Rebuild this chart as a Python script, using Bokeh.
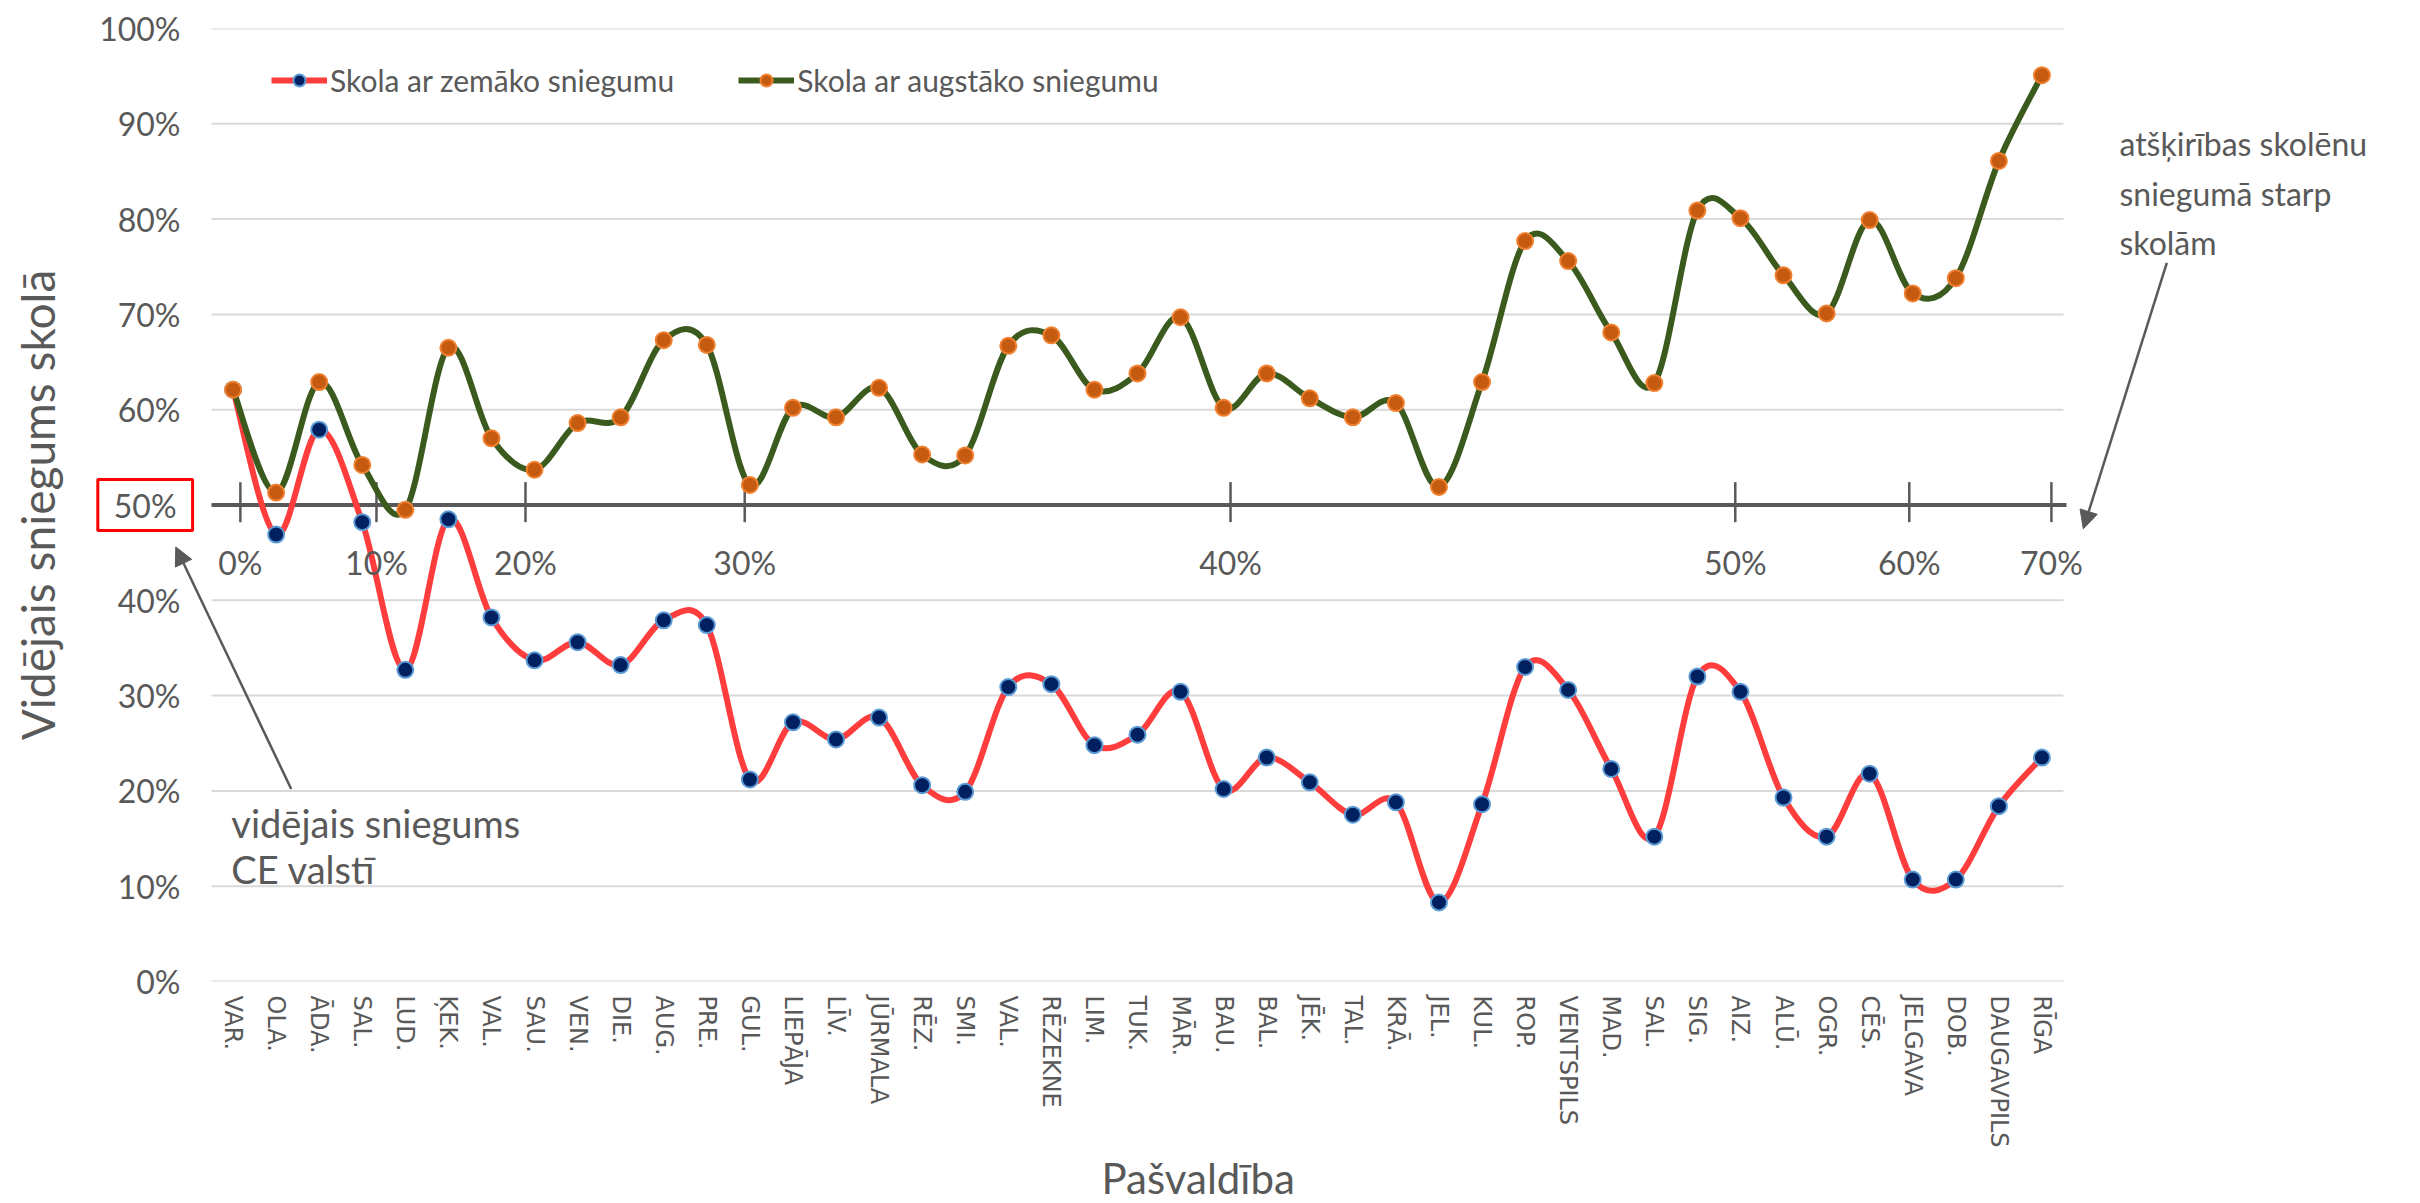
import numpy as np
from bokeh.plotting import figure
from bokeh.models import (Range1d, FixedTicker, Label, Arrow, NormalHead,
                          Legend, LegendItem, Title)
from bokeh.embed import file_html
from bokeh.resources import INLINE

# ---------------- data ----------------
municipalities = ["VAR.", "OLA.", "ĀDA.", "SAL.", "LUD.", "ĶEK.", "VAL.", "SAU.", "VEN.", "DIE.",
                  "AUG.", "PRE.", "GUL.", "LIEPĀJA", "LĪV.", "JŪRMALA", "RĒZ.", "SMI.", "VAL.",
                  "RĒZEKNE", "LIM.", "TUK.", "MĀR.", "BAU.", "BAL.", "JĒK.", "TAL.", "KRĀ.",
                  "JEL.", "KUL.", "ROP.", "VENTSPILS", "MAD.", "SAL.", "SIG.", "AIZ.", "ALŪ.",
                  "OGR.", "CĒS.", "JELGAVA", "DOB.", "DAUGAVPILS", "RĪGA"]

lowest = [62.1, 46.9, 57.9, 48.2, 32.7, 48.5, 38.2, 33.7, 35.6, 33.2,
          37.9, 37.4, 21.2, 27.2, 25.4, 27.7, 20.6, 19.9, 30.9,
          31.2, 24.8, 25.9, 30.4, 20.2, 23.5, 20.9, 17.5, 18.8,
          8.3, 18.6, 33.0, 30.6, 22.3, 15.2, 32.0, 30.4, 19.3,
          15.2, 21.8, 10.7, 10.7, 18.4, 23.5]

highest = [62.1, 51.3, 62.9, 54.2, 49.5, 66.5, 57.0, 53.7, 58.6, 59.2,
           67.3, 66.8, 52.1, 60.2, 59.2, 62.3, 55.3, 55.2, 66.7,
           67.8, 62.1, 63.8, 69.7, 60.2, 63.8, 61.2, 59.2, 60.7,
           51.9, 62.9, 77.7, 75.6, 68.1, 62.8, 80.9, 80.1, 74.1,
           70.1, 79.9, 72.2, 73.8, 86.1, 95.1]

series_names = ["Skola ar zemāko sniegumu", "Skola ar augstāko sniegumu"]

y_ticks = [0, 10, 20, 30, 40, 50, 60, 70, 80, 90, 100]
boxed_tick = 50

# difference scale drawn along the 50% line (positions in category units)
diff_tick_pos = [0.17, 3.33, 6.79, 11.88, 23.16, 34.88, 38.92, 42.22]
diff_tick_labels = ["0%", "10%", "20%", "30%", "40%", "50%", "60%", "70%"]

# ---------------- styling ----------------
GRAY = "#595959"
GRID = "#D9D9D9"
RED = "#FF3D3D"
GREEN = "#3A5A1E"
NAVY = "#002060"
NAVY_EDGE = "#5B9BD5"
ORANGE = "#C55A11"
ORANGE_EDGE = "#F08030"
FONT = "Lato"

n = len(municipalities)
xs = np.arange(n, dtype=float)
cat_lo, cat_hi = -0.5, n - 0.5

# frame extends beyond the category area so that side notes are not clipped
x_lo = cat_lo - 2.81
x_hi = cat_hi + 8.29

p = figure(width=2420, height=1203, output_backend="svg", toolbar_location=None,
           x_range=Range1d(x_lo, x_hi), y_range=Range1d(0, 100),
           min_border_left=90, min_border_right=0, min_border_top=28,
           min_border_bottom=222)
p.outline_line_color = None
p.background_fill_color = "white"
p.xgrid.visible = False
p.ygrid.visible = False

# x axis
p.xaxis.ticker = FixedTicker(ticks=list(range(n)))
p.xaxis.major_label_overrides = {i: m for i, m in enumerate(municipalities)}
p.xaxis.major_label_orientation = "vertical"
p.xaxis.major_label_text_font = "DejaVu Sans"
p.xaxis.major_label_text_font_size = "24px"
p.xaxis.major_label_text_color = GRAY
p.xaxis.major_label_standoff = 14
p.xaxis.major_tick_out = 0
p.xaxis.major_tick_in = 0
p.xaxis.axis_line_color = None
p.xaxis.major_tick_line_color = None
p.xaxis.minor_tick_line_color = None

# y axis (labels pulled in next to the plotting area)
p.yaxis.ticker = FixedTicker(ticks=y_ticks)
p.yaxis.major_label_overrides = {t: ("" if t == boxed_tick else f"{t}%") for t in y_ticks}
p.yaxis.major_label_text_font = FONT
p.yaxis.major_label_text_font_size = "32px"
p.yaxis.major_label_text_color = GRAY
p.yaxis.major_label_standoff = -90
p.yaxis.major_tick_out = 0
p.yaxis.major_tick_in = 0
p.yaxis.axis_line_color = None
p.yaxis.major_tick_line_color = None
p.yaxis.minor_tick_line_color = None
p.yaxis.axis_label = "Vidējais sniegums skolā"
p.yaxis.axis_label_text_font = FONT
p.yaxis.axis_label_text_font_size = "46px"
p.yaxis.axis_label_text_font_style = "normal"
p.yaxis.axis_label_text_color = GRAY
p.yaxis.axis_label_standoff = 31

# horizontal gridlines over the category area
p.segment(x0=[cat_lo] * len(y_ticks), y0=y_ticks, x1=[cat_hi] * len(y_ticks), y1=y_ticks,
          line_color=GRID, line_width=2)

# 50% axis with the difference scale
p.segment(x0=[cat_lo], y0=[boxed_tick], x1=[cat_hi + 0.07], y1=[boxed_tick],
          line_color=GRAY, line_width=4)
p.segment(x0=diff_tick_pos, y0=48.2, x1=diff_tick_pos, y1=52.4, line_color=GRAY, line_width=2.5)
for pos, lab in zip(diff_tick_pos, diff_tick_labels):
    p.add_layout(Label(x=pos, y=44.0, text=lab, text_align="center", text_baseline="middle",
                       text_font=FONT, text_font_size="32px", text_color=GRAY))


def smooth_segments(x, y):
    x = np.asarray(x, float)
    y = np.asarray(y, float)
    m = len(x)
    xp = np.concatenate([[x[0]], x, [x[-1]]])
    yp = np.concatenate([[y[0]], y, [y[-1]]])
    return dict(
        x0=x[:-1], y0=y[:-1], x1=x[1:], y1=y[1:],
        cx0=xp[1:m] + (xp[2:m + 1] - xp[0:m - 1]) / 6.0,
        cy0=yp[1:m] + (yp[2:m + 1] - yp[0:m - 1]) / 6.0,
        cx1=xp[2:m + 1] - (xp[3:m + 2] - xp[1:m]) / 6.0,
        cy1=yp[2:m + 1] - (yp[3:m + 2] - yp[1:m]) / 6.0,
    )


legend_items = []
for vals, lc, fc, ec, name in [(lowest, RED, NAVY, NAVY_EDGE, series_names[0]),
                               (highest, GREEN, ORANGE, ORANGE_EDGE, series_names[1])]:
    seg = smooth_segments(xs, vals)
    br = p.bezier(line_color=lc, line_width=6, **seg)
    sc = p.scatter(x=xs, y=vals, size=16, fill_color=fc, line_color=ec, line_width=2)
    legend_items.append(LegendItem(label=name, renderers=[br, sc]))

legend = Legend(items=legend_items, orientation="horizontal", location=(181, 883),
                glyph_width=56, glyph_height=30, label_standoff=3, spacing=64,
                padding=0, margin=0, border_line_color=None, background_fill_alpha=0,
                label_text_font=FONT, label_text_font_size="30px", label_text_color=GRAY)
p.add_layout(legend)

# boxed 50% label
p.add_layout(Label(x=cat_lo - 0.44, y=boxed_tick, text=f"{boxed_tick}%", text_align="right",
                   text_baseline="middle", text_font=FONT, text_font_size="32px",
                   text_color=GRAY, border_line_color="#FF0000", border_line_width=3,
                   padding=(16, 6)))

# notes
for i, line in enumerate(["vidējais sniegums", "CE valstī"]):
    p.add_layout(Label(x=-0.04, y=16.6 - 4.8 * i, text=line, text_align="left",
                       text_baseline="middle", text_font=FONT, text_font_size="38px",
                       text_color=GRAY))
for i, line in enumerate(["atšķirības skolēnu", "sniegumā starp", "skolām"]):
    p.add_layout(Label(x=43.8, y=87.9 - 5.2 * i, text=line, text_align="left",
                       text_baseline="middle", text_font=FONT, text_font_size="32px",
                       text_color=GRAY))

p.add_layout(Arrow(end=NormalHead(size=18, line_color=GRAY, fill_color=GRAY),
                   x_start=1.35, y_start=20.2, x_end=-1.33, y_end=45.6,
                   line_color=GRAY, line_width=2.5))
p.add_layout(Arrow(end=NormalHead(size=18, line_color=GRAY, fill_color=GRAY),
                   x_start=44.9, y_start=75.4, x_end=42.96, y_end=47.5,
                   line_color=GRAY, line_width=2.5))

# x axis title
p.add_layout(Title(text="Pašvaldība", align="left", offset=1011, standoff=0,
                   text_font=FONT, text_font_size="42px", text_font_style="normal",
                   text_color=GRAY), "below")

open("out.html", "w").write(file_html(p, INLINE))
